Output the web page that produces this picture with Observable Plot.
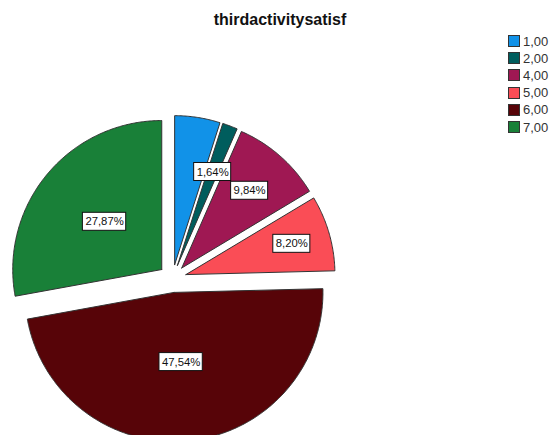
<!DOCTYPE html>
<html>
<head>
<meta charset="utf-8">
<script src="https://cdn.jsdelivr.net/npm/d3@7"></script>
<script src="https://cdn.jsdelivr.net/npm/@observablehq/plot@0.6"></script>
<style>
  html, body { margin: 0; padding: 0; background: white; }
  #wrap { position: relative; width: 552px; height: 435px; overflow: hidden; background: white; }
  #chart { position: absolute; left: 0; top: 0; }
  #title { position: absolute; left: 0; width: 560px; top: 11.5px; text-align: center;
           font: bold 16px "Liberation Sans", Arial, sans-serif; line-height: 16px; color: #111; }
  .lg-row { position: absolute; left: 508px; height: 14px; display: flex; align-items: center;
            font: 13px "Liberation Sans", Arial, sans-serif; color: #333; white-space: nowrap; }
  .lg-sw { width: 12px; height: 12px; box-sizing: border-box; border: 1px solid #333; margin-right: 3px; }
</style>
</head>
<body>
<div id="wrap">
  <div id="chart"></div>
  <div id="title"></div>
  <div id="legend"></div>
</div>
<script>
// ---- data ----
const title = "thirdactivitysatisf";
const categories = ["1,00", "2,00", "4,00", "5,00", "6,00", "7,00"];
const percents = [4.92, 1.64, 9.84, 8.20, 47.54, 27.87];
const labels = [null, "1,64%", "9,84%", "8,20%", "47,54%", "27,87%"];
const colors = ["#1192e8", "#005d5d", "#9f1853", "#fa4d56", "#570408", "#198038"];

// ---- layout (pixels) ----
const W = 552, H = 435;
const layout = {cx: 172, cy: 278, R: 149, explode: 14};
const labelRadius = {"2,00": 0.67, "4,00": 0.69, "5,00": 0.74, "6,00": 0.47, "7,00": 0.5};
const labelFont = 11.3;
const legendTop = 41, legendStep = 17.2;

const {cx, cy, R} = layout;
const total = d3.sum(percents);
let acc = 0;
const slices = categories.map((c, i) => {
  const a0 = acc / total * 2 * Math.PI;
  acc += percents[i];
  const a1 = acc / total * 2 * Math.PI;
  return {cat: c, a0, a1, mid: (a0 + a1) / 2, label: labels[i]};
});
const e = layout.explode / R;
const pts = [];
const labelData = [];
const canvas = document.createElement("canvas");
const ctx = canvas.getContext("2d");
ctx.font = `${labelFont}px "Liberation Sans", Arial, sans-serif`;
for (const s of slices) {
  const ox = e * Math.sin(s.mid), oy = e * Math.cos(s.mid);
  pts.push({cat: s.cat, x: ox, y: oy});
  const n = Math.max(2, Math.ceil((s.a1 - s.a0) / (Math.PI / 360)));
  for (let k = 0; k <= n; k++) {
    const a = s.a0 + (s.a1 - s.a0) * k / n;
    pts.push({cat: s.cat, x: ox + Math.sin(a), y: oy + Math.cos(a)});
  }
  pts.push({cat: s.cat, x: ox, y: oy});
  if (s.label) {
    const f = labelRadius[s.cat];
    const x = ox + f * Math.sin(s.mid), y = oy + f * Math.cos(s.mid);
    const w = ctx.measureText(s.label).width;
    const hw = (w / 2 + 2.5) / R, hh = 9 / R;
    labelData.push({x, y, text: s.label, x1: x - hw, x2: x + hw, y1: y - hh, y2: y + hh});
  }
}

const plot = Plot.plot({
  width: W, height: H, margin: 0,
  style: {background: "white"},
  x: {domain: [-cx / R, (W - cx) / R], axis: null},
  y: {domain: [-(H - cy) / R, cy / R], axis: null},
  color: {domain: categories, range: colors},
  marks: [
    Plot.line(pts, {x: "x", y: "y", z: "cat", fill: "cat", stroke: "#333", strokeWidth: 1, strokeLinejoin: "miter"}),
    Plot.rect(labelData, {x1: "x1", x2: "x2", y1: "y1", y2: "y2", fill: "white", stroke: "#111", strokeWidth: 1}),
    Plot.text(labelData, {x: "x", y: "y", text: "text", fontSize: labelFont, fill: "#111",
      fontFamily: '"Liberation Sans", Arial, sans-serif'})
  ]
});
document.getElementById("chart").appendChild(plot);
document.getElementById("title").textContent = title;

const legend = document.getElementById("legend");
categories.forEach((c, i) => {
  const row = document.createElement("div");
  row.className = "lg-row";
  row.style.top = (legendTop + i * legendStep - 7) + "px";
  const sw = document.createElement("div");
  sw.className = "lg-sw";
  sw.style.background = colors[i];
  const t = document.createElement("span");
  t.textContent = c;
  row.appendChild(sw);
  row.appendChild(t);
  legend.appendChild(row);
});
</script>
</body>
</html>
